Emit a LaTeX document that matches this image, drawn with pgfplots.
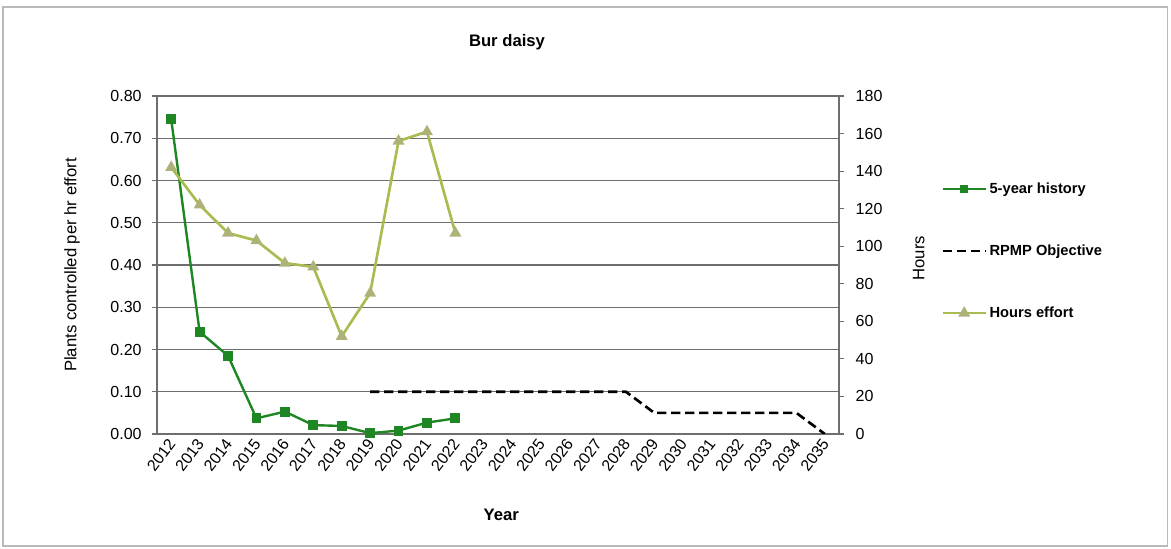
\documentclass[border=0pt]{standalone}
\usepackage{pgfplots}
\pgfplotsset{compat=1.18}
\usepackage{fontspec}
\setmainfont{Liberation Sans}
\definecolor{histgreen}{RGB}{30,135,35}
\definecolor{hoursline}{RGB}{168,188,82}
\definecolor{hoursmark}{RGB}{175,178,120}
\definecolor{gridgray}{RGB}{110,110,110}
\begin{document}
\begin{tikzpicture}
\useasboundingbox (0,0) rectangle (878.25pt,411.75pt);
\draw[gray!55, line width=0.8pt] (2.25pt,2.25pt) rectangle (875.5pt,406.5pt);
\pgfplotsset{
  every axis/.append style={
    scale only axis, width=511.5pt, height=253.5pt,
    at={(117.75pt,86.25pt)}, anchor=south west,
    xmin=-0.5, xmax=23.5,
    /pgf/number format/assume math mode=true,
    tick label style={font=\fontsize{12}{14}\selectfont},
    tick align=outside,
    axis line style={gridgray, line width=0.8pt},
    tick style={gridgray, line width=0.8pt},
    major tick length=4pt, minor tick length=4pt,
  }
}
\begin{axis}[
    axis y line*=left, axis x line*=bottom,
    ymin=0, ymax=0.8,
    ytick={0,0.1,0.2,0.3,0.4,0.5,0.6,0.7,0.8},
    yticklabel style={xshift=-4pt, /pgf/number format/.cd, fixed, fixed zerofill, precision=2},
    ymajorgrids=true,
    grid style={gridgray, line width=0.8pt},
    xtick={0,...,23},
    xticklabels={2012,2013,2014,2015,2016,2017,2018,2019,2020,2021,2022,2023,2024,2025,2026,2027,2028,2029,2030,2031,2032,2033,2034,2035},
    xtick style={draw=none},
    minor xtick={-0.5,0.5,...,23.5},
    minor tick style={gridgray, line width=0.8pt},
    xticklabel style={rotate=53, anchor=east, xshift=3pt, yshift=-1pt},
]
\addplot[histgreen, line width=1.8pt, mark=square*, mark size=2.8pt, mark options={solid, fill=histgreen}]
    coordinates {
(0,0.745)
(1,0.242)
(2,0.185)
(3,0.037)
(4,0.053)
(5,0.021)
(6,0.019)
(7,0.002)
(8,0.008)
(9,0.027)
(10,0.037)
    };
\addplot[black, line width=2pt, dash pattern=on 7pt off 3.5pt]
    coordinates {
(7,0.1)
(8,0.1)
(9,0.1)
(10,0.1)
(11,0.1)
(12,0.1)
(13,0.1)
(14,0.1)
(15,0.1)
(16,0.1)
(17,0.05)
(18,0.05)
(19,0.05)
(20,0.05)
(21,0.05)
(22,0.05)
(23,0)
    };
\end{axis}
\begin{axis}[
    axis y line*=right, axis x line=none,
    ymin=0, ymax=180,
    ytick={0,20,40,60,80,100,120,140,160,180},
    yticklabel style={xshift=5pt},
    legend style={draw=none, fill=none, at={(1.15,0.541)}, anchor=west,
        font=\bfseries\fontsize{11}{13}\selectfont, row sep=33pt, inner sep=0pt},
    legend cell align=left,
    legend image code/.code={\draw[mark repeat=2, mark phase=2, #1] plot coordinates {(0pt,0pt) (16pt,0pt) (32pt,0pt)};},
]
\addlegendimage{histgreen, line width=1.8pt, mark=square*, mark size=2pt, mark options={solid, fill=histgreen}}
\addlegendentry{5-year history}
\addlegendimage{black, line width=2pt, dash pattern=on 7pt off 3.5pt}
\addlegendentry{RPMP Objective}
\addplot[hoursline, line width=2pt, mark=triangle*, mark size=3.2pt, mark options={solid, fill=hoursmark, draw=hoursmark}]
    coordinates {
(0,142)
(1,122)
(2,107)
(3,103)
(4,91)
(5,89)
(6,52)
(7,75)
(8,156)
(9,161)
(10,107)
    };
\addlegendentry{Hours effort}
\end{axis}
\node[font=\bfseries\fontsize{12.5}{14}\selectfont] at (380.25pt,380.25pt) {Bur daisy};
\node[font=\bfseries\fontsize{12.5}{14}\selectfont] at (376pt,25.5pt) {Year};
\node[rotate=90, font=\fontsize{12.5}{14}\selectfont] at (54pt,213pt) {Plants controlled per hr effort};
\node[rotate=90, font=\fontsize{12.5}{14}\selectfont] at (689pt,218pt) {Hours};
\end{tikzpicture}
\end{document}
